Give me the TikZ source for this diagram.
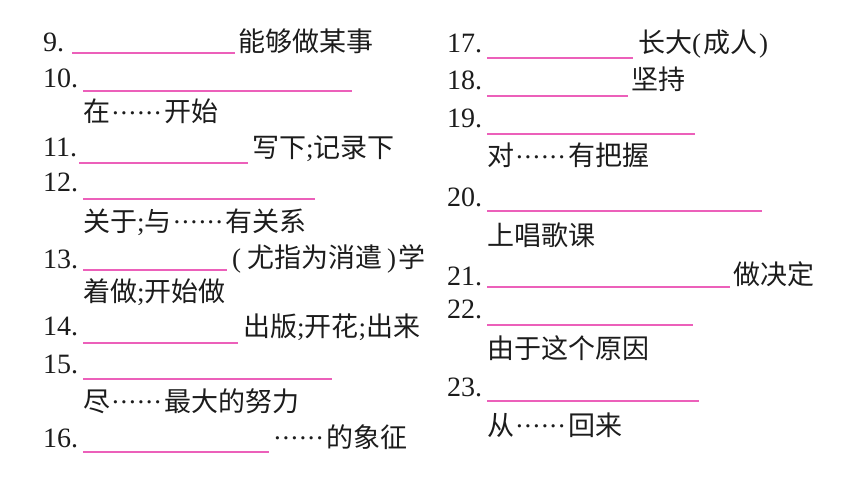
\documentclass[tikz,border=0pt]{standalone}
\usepackage{fontspec}
\setmainfont{Liberation Serif}
\newfontfamily\cjk{Noto Sans CJK SC}
\newcommand{\numf}{\fontsize{28}{28}\selectfont\rmfamily}
\newcommand{\zhf}{\fontsize{27}{27}\selectfont\cjk}
\newcommand{\lat}[1]{{\rmfamily #1}}
\newcommand{\dotm}{\raisebox{7.5pt}{\rmfamily .}}
\newcommand{\elli}{\makebox[54pt][s]{\hspace{2pt}\dotm\hfil\dotm\hfil\dotm\hfil\dotm\hfil\dotm\hfil\dotm\hspace{3pt}}}
\definecolor{ink}{RGB}{28,28,28}
\definecolor{blankpink}{RGB}{236,96,186}
\begin{document}
\begin{tikzpicture}[x=1pt,y=-1pt,
  num/.style={anchor=base west,inner sep=0pt,font=\numf,text=ink},
  zh/.style={anchor=base west,inner sep=0pt,font=\zhf,text=ink},
  blank/.style={draw=blankpink,line width=1.5pt}]
\useasboundingbox[fill=white] (0,0) rectangle (860,484);
% ---------- left column ----------
\node[num] (n9) at (43,52) {9.};
\draw[blank] (72,53) -- (235,53);
\node[zh] (t9) at (238,52) {能够做某事};

\node[num] (n10) at (43,88) {10.};
\draw[blank] (83,91) -- (352,91);
\node[zh] (t10) at (83,122) {在\elli 开始};

\node[num] (n11) at (43,157) {11.};
\draw[blank] (79,163) -- (248,163);
\node[zh] (t11) at (252,158) {写下\lat{;}记录下};

\node[num] (n12) at (43,192) {12.};
\draw[blank] (83,199) -- (315,199);
\node[zh] (t12) at (83,231) {关于\lat{;}与\elli 有关系};

\node[num] (n13) at (43,268) {13.};
\draw[blank] (83,270) -- (227,270);
\node[zh] (t13) at (232,267) {\lat{(}\hspace{6pt}尤指为消遣\hspace{5pt}\lat{)}\hspace{2pt}学};
\node[zh] (t13b) at (83,301) {着做\lat{;}开始做};

\node[num] (n14) at (43,335) {14.};
\draw[blank] (83,343) -- (238,343);
\node[zh] (t14) at (243,336) {出版\lat{;}开花\lat{;}出来};

\node[num] (n15) at (43,373) {15.};
\draw[blank] (83,379) -- (332,379);
\node[zh] (t15) at (83,411) {尽\elli 最大的努力};

\node[num] (n16) at (43,447) {16.};
\draw[blank] (83,452) -- (269,452);
\node[zh] (t16) at (272,447) {\elli 的象征};
% ---------- right column ----------
\node[num] (n17) at (447,53) {17.};
\draw[blank] (487,58) -- (633,58);
\node[zh] (t17) at (638,53) {长大\lat{(}\hspace{2pt}成人\hspace{2pt}\lat{)}};

\node[num] (n18) at (447,90) {18.};
\draw[blank] (487,96) -- (628,96);
\node[zh] (t18) at (631,90) {坚持};

\node[num] (n19) at (447,128) {19.};
\draw[blank] (487,134) -- (695,134);
\node[zh] (t19) at (487,166) {对\elli 有把握};

\node[num] (n20) at (447,207) {20.};
\draw[blank] (487,211) -- (762,211);
\node[zh] (t20) at (487,245) {上唱歌课};

\node[num] (n21) at (447,285) {21.};
\draw[blank] (487,287) -- (730,287);
\node[zh] (t21) at (733,284) {做决定};

\node[num] (n22) at (447,318) {22.};
\draw[blank] (487,325) -- (693,325);
\node[zh] (t22) at (487,358) {由于这个原因};

\node[num] (n23) at (447,396) {23.};
\draw[blank] (487,401) -- (699,401);
\node[zh] (t23) at (487,435) {从\elli 回来};
\end{tikzpicture}
\end{document}
